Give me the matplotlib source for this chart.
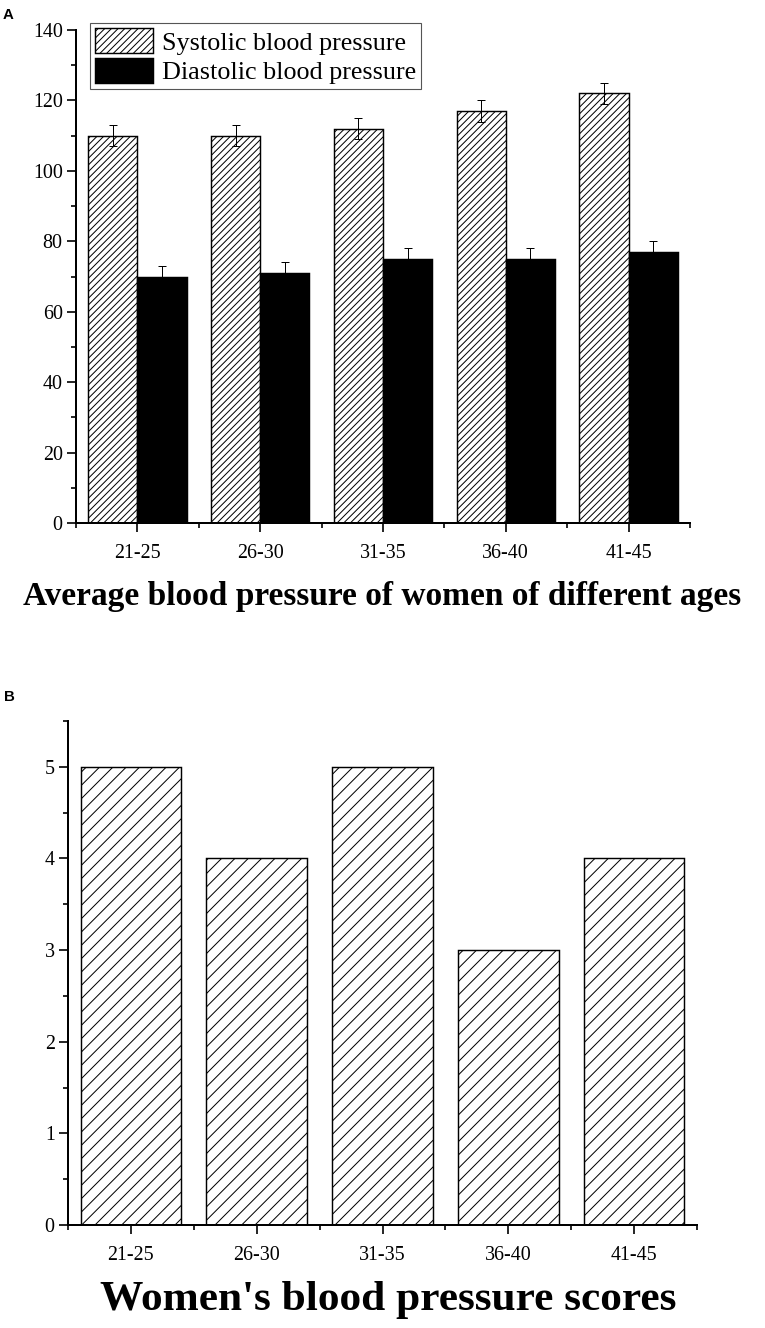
import numpy as np
import matplotlib
matplotlib.use("Agg")
import matplotlib.pyplot as plt
from matplotlib.ticker import MultipleLocator, FixedLocator

# Data
age_groups = ["21-25", "26-30", "31-35", "36-40", "41-45"]
systolic = [110, 110, 112, 117, 122]
systolic_err = [3, 3, 3, 3, 3]
diastolic = [70, 71, 75, 75, 77]
diastolic_err = [3, 3, 3, 3, 3]
scores = [5, 4, 5, 3, 4]

title_a = "Average blood pressure of women of different ages"
title_b = "Women's blood pressure scores"

DPI = 80
plt.rcParams["font.family"] = ["Liberation Serif", "DejaVu Serif"]
plt.rcParams["hatch.linewidth"] = 0.9
plt.rcParams["hatch.color"] = "black"

fig = plt.figure(figsize=(765 / DPI, 1328 / DPI), dpi=DPI)
fig.patch.set_facecolor("white")


def style_axes(ax, n, ymajor, yminor):
    for side in ("top", "right"):
        ax.spines[side].set_visible(False)
    for side in ("left", "bottom"):
        ax.spines[side].set_linewidth(1.8)
    ax.set_xlim(-0.5, n - 0.5)
    ax.xaxis.set_major_locator(FixedLocator(np.arange(n)))
    ax.xaxis.set_minor_locator(FixedLocator(np.arange(n + 1) - 0.5))
    ax.yaxis.set_major_locator(MultipleLocator(ymajor))
    ax.yaxis.set_minor_locator(MultipleLocator(yminor))
    ax.tick_params(axis="both", which="major", direction="out", length=8,
                   width=1.5, labelsize=18, color="black")
    ax.tick_params(axis="both", which="minor", direction="out", length=4.5,
                   width=1.5, color="black")
    ax.tick_params(axis="x", which="major", pad=11)
    ax.tick_params(axis="y", which="major", pad=4)


# Panel A
x = np.arange(len(age_groups))
w = 0.4
ax1 = fig.add_axes([76 / 765, 1 - 523 / 1328, 614 / 765, 493 / 1328])
b_sys = ax1.bar(x - w / 2, systolic, w, color="white", edgecolor="black",
                hatch="////", linewidth=1.3, label="Systolic blood pressure")
b_dia = ax1.bar(x + w / 2, diastolic, w, color="black", edgecolor="black",
                linewidth=1.3, label="Diastolic blood pressure")
ax1.errorbar(x - w / 2, systolic, yerr=systolic_err, fmt="none", ecolor="black",
             elinewidth=0.9, capsize=4, capthick=0.9)
ax1.errorbar(x + w / 2, diastolic, yerr=diastolic_err, fmt="none", ecolor="black",
             elinewidth=0.9, capsize=4, capthick=0.9)
ax1.set_ylim(0, 140)
style_axes(ax1, len(age_groups), 20, 10)
ax1.set_xticklabels(age_groups)

leg = ax1.legend(handles=[b_sys, b_dia], loc="upper left",
                 bbox_to_anchor=(90 / 765, 1 - 23 / 1328),
                 bbox_transform=fig.transFigure, borderaxespad=0,
                 fontsize=23.5, handlelength=2.2, handleheight=1.1,
                 handletextpad=0.35, labelspacing=0.12, borderpad=0.2,
                 fancybox=False, framealpha=1, edgecolor="#555555")
leg.get_frame().set_linewidth(1.0)

fig.text(382 / 765, 1 - 596 / 1328, title_a, ha="center", va="center",
         fontsize=30, fontweight="bold")
fig.text(3 / 765, 1 - 15 / 1328, "A", ha="left", va="center",
         fontsize=13.5, fontweight="bold", family="Liberation Sans")

# Panel B
ax2 = fig.add_axes([68 / 765, 1 - 1225 / 1328, 629 / 765, 504 / 1328])
ax2.bar(x, scores, 0.8, color="white", edgecolor="black", hatch="//",
        linewidth=1.3)
ax2.set_ylim(0, 5.5)
style_axes(ax2, len(age_groups), 1, 0.5)
ax2.set_xticklabels(age_groups)

fig.text(388 / 765, 1 - 1300 / 1328, title_b, ha="center", va="center",
         fontsize=39, fontweight="bold")
fig.text(4 / 765, 1 - 697 / 1328, "B", ha="left", va="center",
         fontsize=13.5, fontweight="bold", family="Liberation Sans")

fig.savefig("out.png", dpi=DPI, facecolor="white")
